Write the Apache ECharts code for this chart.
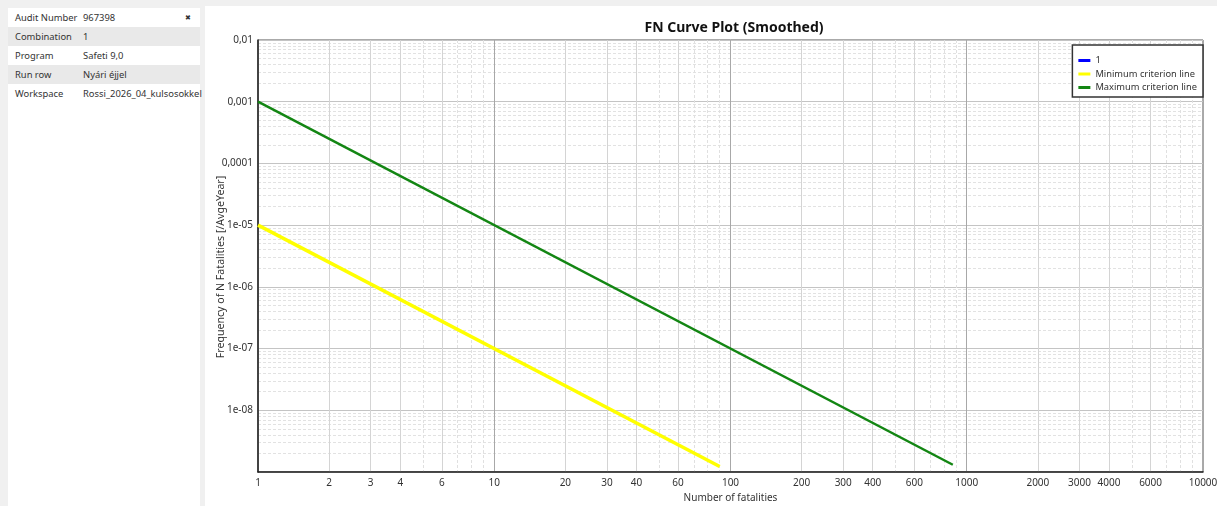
<!DOCTYPE html>
<html>
<head>
<meta charset="utf-8">
<script src="https://cdn.jsdelivr.net/npm/echarts@6/dist/echarts.min.js"></script>
<style>
  html, body { margin: 0; padding: 0; background: #f0f0f0; width: 1217px; height: 506px; overflow: hidden; }
  #info { position: absolute; left: 8px; top: 8px; width: 192px; height: 498px; background: #fff;
          font-family: "Noto Sans", sans-serif; font-size: 9.4px; color: #333; }
  .row { height: 19px; line-height: 19px; position: relative; }
  .row.alt { background: #e9e9e9; }
  .row .k { position: absolute; left: 7px; }
  .row .v { position: absolute; left: 75px; white-space: nowrap; }
  .pin { position: absolute; left: 177px; top: 0; font-size: 7px; }
  #chart { position: absolute; left: 205px; top: 6px; width: 1012px; height: 500px; background: #fff; }
</style>
</head>
<body>
<div id="info"></div>
<div id="chart"></div>
<script>
// info panel
const infoKeys = ["Audit Number", "Combination", "Program", "Run row", "Workspace"];
const infoValues = ["967398", "1", "Safeti 9,0", "Nyári éjjel", "Rossi_2026_04_kulsosokkel"];

// series
const seriesNames = ["1", "Minimum criterion line", "Maximum criterion line"];
const seriesColors = ["#0000ff", "#ffff00", "#138613"];
const minN = [1, 90];
const minF = [1e-5, 1.23e-9];
const maxN = [1, 873];
const maxF = [1e-3, 1.31e-9];

// ticks
const xLabelValues = [1, 2, 3, 4, 6, 10, 20, 30, 40, 60, 100, 200, 300, 400, 600, 1000, 2000, 3000, 4000, 6000, 10000];
const xDecades = [1, 10, 100, 1000, 10000];
const xMinorSolid = [2, 3, 4, 6, 20, 30, 40, 60, 200, 300, 400, 600, 2000, 3000, 4000, 6000];
const xMinorDashed = [5, 7, 8, 9, 50, 70, 80, 90, 500, 700, 800, 900, 5000, 7000, 8000, 9000];
const yTickValues = [0.01, 0.001, 0.0001, 1e-5, 1e-6, 1e-7, 1e-8];
const yTickLabels = ["0,01", "0,001", "0,0001", "1e-05", "1e-06", "1e-07", "1e-08"];
const yMinor = [];
[1e-9, 1e-8, 1e-7, 1e-6, 1e-5, 1e-4, 1e-3].forEach((d) => {
  [2, 3, 4, 5, 6, 7, 8, 9].forEach((k) => yMinor.push(+(k * d).toPrecision(3)));
});

const info = document.getElementById("info");
infoKeys.forEach((k, i) => {
  const row = document.createElement("div");
  row.className = "row" + (i % 2 ? " alt" : "");
  row.innerHTML = '<span class="k">' + k + '</span><span class="v">' + infoValues[i] + "</span>" +
    (i === 0 ? '<span class="pin">&#10006;</span>' : "");
  info.appendChild(row);
});

const font = "Noto Sans";
const hidden = { axisLine: { show: false }, axisTick: { show: false }, axisLabel: { show: false } };

const myChart = echarts.init(document.getElementById("chart"), null, { renderer: "canvas" });
myChart.setOption({
  animation: false,
  textStyle: { fontFamily: font },
  title: {
    text: "FN Curve Plot (Smoothed)",
    left: 524,
    top: 10,
    textAlign: "center",
    textStyle: { fontSize: 14, fontWeight: "bold", color: "#111", fontFamily: font },
  },
  legend: {
    orient: "vertical",
    right: 14,
    top: 39,
    data: seriesNames,
    icon: "rect",
    itemWidth: 12,
    itemHeight: 3,
    itemGap: 4.5,
    padding: [11, 6, 5, 6],
    borderColor: "#333",
    borderWidth: 1.5,
    backgroundColor: "#fff",
    textStyle: { fontSize: 9.3, color: "#333", fontFamily: font },
  },
  grid: {
    left: 53,
    right: 14,
    top: 34,
    bottom: 34,
    containLabel: false,
    outerBoundsMode: "none",
    show: true,
    borderColor: "#555",
    borderWidth: 1,
  },
  xAxis: [
    {
      type: "log",
      min: 1,
      max: 10000,
      name: "Number of fatalities",
      nameLocation: "middle",
      nameGap: 21,
      nameMoveOverlap: false,
      nameTextStyle: { fontSize: 10, color: "#333" },
      axisLine: { lineStyle: { color: "#222", width: 1.5 } },
      axisTick: { show: false, customValues: xDecades },
      axisLabel: { customValues: xLabelValues, fontSize: 10, color: "#333", margin: 6, formatter: (v) => String(v) },
      splitLine: { show: true, lineStyle: { color: "#a8a8a8", width: 1 } },
    },
    Object.assign({ type: "log", min: 1, max: 10000 }, hidden, {
      axisTick: { show: false, customValues: xMinorSolid },
      splitLine: { show: true, lineStyle: { color: "#d4d4d4", width: 1 } },
    }),
    Object.assign({ type: "log", min: 1, max: 10000 }, hidden, {
      axisTick: { show: false, customValues: xMinorDashed },
      splitLine: { show: true, lineStyle: { color: "#e0e0e0", width: 1, type: [3, 2] } },
    }),
  ],
  yAxis: [
    {
      type: "log",
      min: 1e-9,
      max: 0.01,
      name: "Frequency of N Fatalities [/AvgeYear]",
      nameLocation: "middle",
      nameGap: 32,
      nameMoveOverlap: false,
      nameTextStyle: { fontSize: 10.6, color: "#333", padding: [0, 22, 0, 0] },
      axisLine: { show: true, lineStyle: { color: "#222", width: 1.5 } },
      axisTick: { show: false },
      axisLabel: {
        fontSize: 10,
        color: "#333",
        margin: 5,
        formatter: (v) => {
          const i = yTickValues.findIndex((t) => Math.abs(Math.log10(t) - Math.log10(v)) < 1e-6);
          return i >= 0 ? yTickLabels[i] : "";
        },
      },
      splitLine: { show: true, lineStyle: { color: "#c4c4c4", width: 1 } },
    },
    Object.assign({ type: "log", min: 1e-9, max: 0.01 }, hidden, {
      axisTick: { show: false, customValues: yMinor },
      splitLine: { show: true, lineStyle: { color: "#e2e2e2", width: 1, type: [3, 2] } },
    }),
  ],
  series: [
    {
      name: seriesNames[0],
      type: "line",
      data: [],
      itemStyle: { color: seriesColors[0] },
      lineStyle: { color: seriesColors[0], width: 3 },
    },
    {
      name: seriesNames[1],
      type: "line",
      symbol: "none",
      data: minN.map((n, i) => [n, minF[i]]),
      itemStyle: { color: seriesColors[1] },
      lineStyle: { color: seriesColors[1], width: 3.5 },
      z: 3,
    },
    {
      name: seriesNames[2],
      type: "line",
      symbol: "none",
      data: maxN.map((n, i) => [n, maxF[i]]),
      itemStyle: { color: seriesColors[2] },
      lineStyle: { color: seriesColors[2], width: 2.5 },
      z: 3,
    },
  ],
});
</script>
</body>
</html>
